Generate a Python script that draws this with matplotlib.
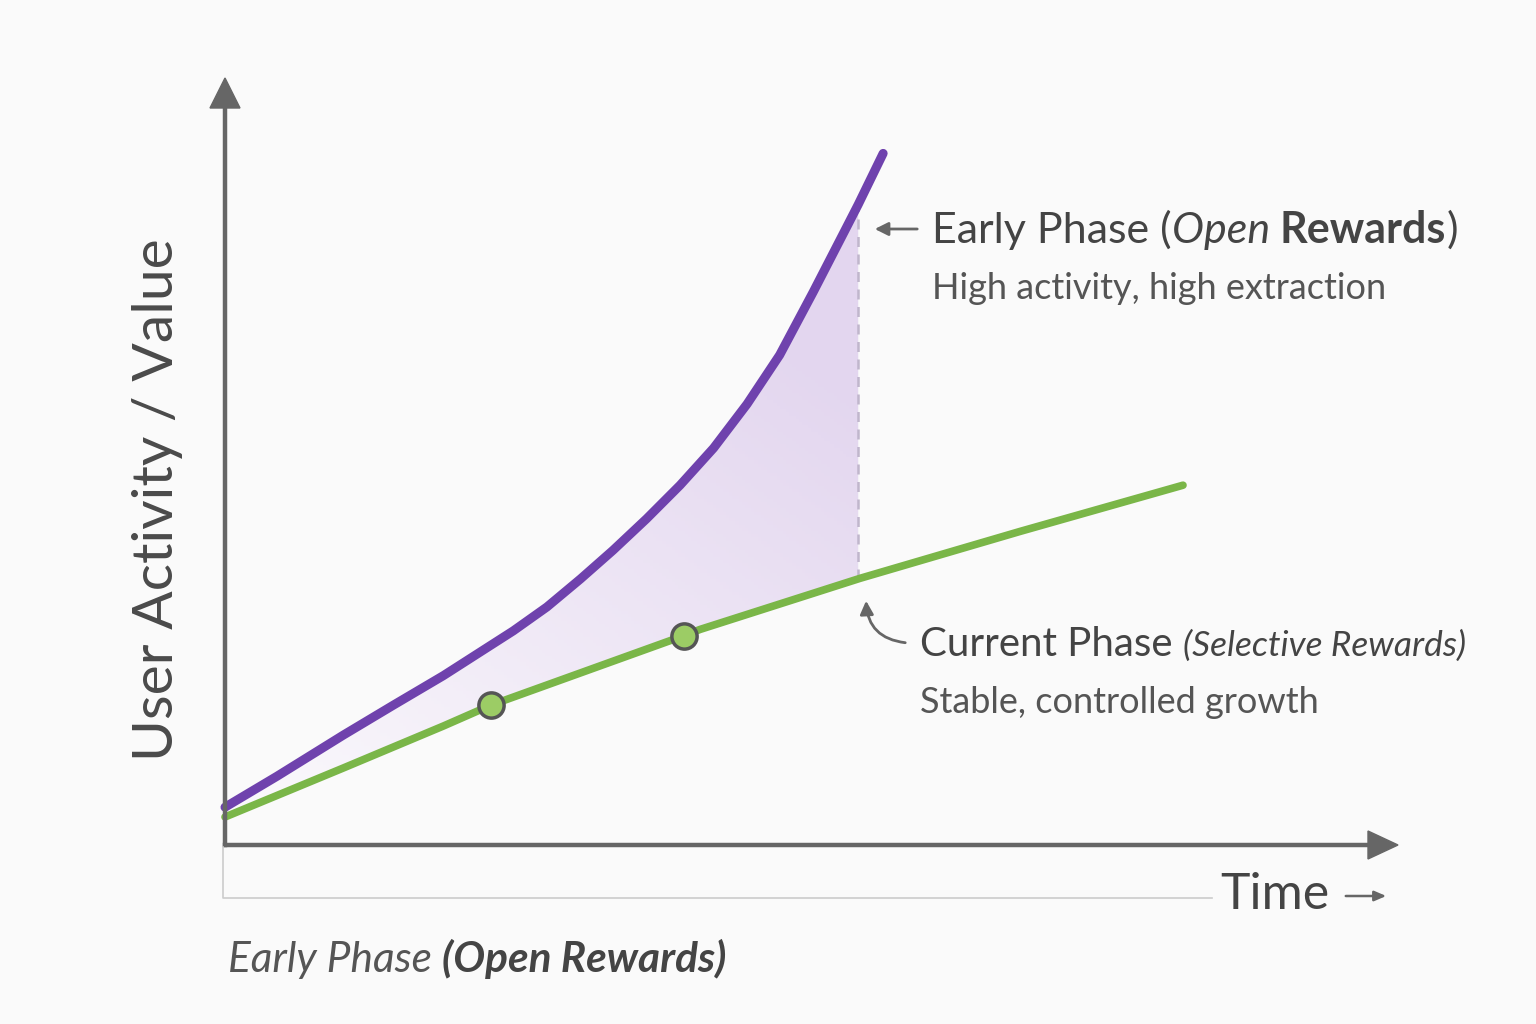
import numpy as np
import matplotlib
matplotlib.use("Agg")
import matplotlib.pyplot as plt
from matplotlib.colors import LinearSegmentedColormap

plt.rcParams['font.family'] = ['Lato', 'DejaVu Sans']

# curves (time units, value units)
t_open = [0.0, 0.54, 1.235, 1.76, 2.28, 3.01, 3.36, 3.71, 4.05, 4.40, 4.75,
          5.10, 5.45, 5.79, 6.14, 6.49, 6.61, 6.87]
v_open = [0.54, 0.98, 1.57, 2.00, 2.42, 3.06, 3.40, 3.80, 4.21, 4.66, 5.14,
          5.67, 6.30, 7.00, 7.90, 8.83, 9.15, 9.88]
t_sel = [0.0, 1.235, 2.28, 2.78, 4.79, 4.96, 6.63, 8.30, 10.0]
v_sel = [0.40, 1.10, 1.70, 2.00, 2.99, 3.08, 3.81, 4.48, 5.14]
t_marks = [2.78, 4.79]
v_marks = [2.00, 2.99]
t_gap = 6.61   # where the gap between phases is marked

purple = '#6f42ad'
green = '#7ab648'
axis_col = '#666666'
text_col = '#444444'

W, H = 1536, 1024
fig = plt.figure(figsize=(W / 100, H / 100), dpi=100, facecolor='#fafafa')
ax = fig.add_axes([225 / W, 179 / H, 958 / W, 700 / H])
ax.set_xlim(0, 10)
ax.set_ylim(0, 10)
ax.set_facecolor('none')
for s in ax.spines.values():
    s.set_visible(False)
ax.set_xticks([])
ax.set_yticks([])

def fx(x):
    return x / W

def fy(y):
    return 1 - y / H

# shaded gap between the curves
to = np.array(t_open)
vo = np.array(v_open)
keep = to <= t_gap
ts = np.array(t_sel)
vs = np.array(v_sel)
vo_end = np.interp(t_gap, to, vo)
vs_end = np.interp(t_gap, ts, vs)
poly_t = np.concatenate([to[keep], [t_gap, t_gap], ts[ts < t_gap][::-1]])
poly_v = np.concatenate([vo[keep], [vo_end, vs_end], vs[ts < t_gap][::-1]])
patch = ax.fill(poly_t, poly_v, color='none', lw=0)[0]
gx, gy = np.meshgrid(np.linspace(0, 1, 200), np.linspace(0, 1, 200))
grad = np.clip(0.5 * gx + 0.7 * gy, 0, 1)
cmap = LinearSegmentedColormap.from_list('fill', ['#fcfbfd', '#e3d6ef'])
im = ax.imshow(grad, extent=[0, t_gap, 0, vo_end], origin='lower', cmap=cmap,
               aspect='auto', zorder=1)
im.set_clip_path(patch)

ax.plot([t_gap, t_gap], [vs_end, vo_end], ls=(0, (4, 3)), color='#c0b6cc', lw=1.8, zorder=2)

ax.plot(t_sel, v_sel, color=green, lw=5.5, solid_capstyle='round', solid_joinstyle='round',
        zorder=3, clip_on=False)
ax.plot(t_open, v_open, color=purple, lw=6.5, solid_capstyle='round', solid_joinstyle='round',
        zorder=4, clip_on=False)
ax.scatter(t_marks, v_marks, s=330, color='#9ccc65', edgecolor='#555555', linewidth=2.5, zorder=5)

# axes drawn as arrows
fig.add_artist(plt.Line2D([fx(225), fx(225)], [fy(845), fy(100)], color=axis_col, lw=3.2))
fig.add_artist(plt.Line2D([fx(225), fx(1375)], [fy(845), fy(845)], color=axis_col, lw=3.2))
fig.add_artist(plt.Polygon([[fx(210), fy(108)], [fx(240), fy(108)], [fx(225), fy(78)]],
                           closed=True, color=axis_col, transform=fig.transFigure))
fig.add_artist(plt.Polygon([[fx(1368), fy(831)], [fx(1368), fy(859)], [fx(1398), fy(845)]],
                           closed=True, color=axis_col, transform=fig.transFigure))
# light bracket under the time axis
fig.add_artist(plt.Line2D([fx(223), fx(223), fx(1212)], [fy(847), fy(898), fy(898)],
                          color='#cccccc', lw=1.2))

fig.text(fx(158), fy(500), 'User Activity / Value', rotation=90, ha='center', va='center',
         fontsize=41, color='#4a4a4a')

renderer = fig.canvas.get_renderer()

def chain(x, y, parts, va='baseline'):
    # place text pieces one after another, each with its own style
    for txt, kw in parts:
        t = fig.text(x, y, txt, va=va, ha='left', **kw)
        bb = t.get_window_extent(renderer=renderer)
        x = bb.x1 / W
    return x

# early phase label
fig.add_artist(matplotlib.patches.FancyArrowPatch((fx(920), fy(229)), (fx(872), fy(229)),
               transform=fig.transFigure, arrowstyle='-|>,head_length=8,head_width=4',
               color=axis_col, lw=2))
chain(fx(932), fy(243), [('Early Phase (', dict(fontsize=31, color=text_col)),
                         ('Open ', dict(fontsize=31, color=text_col, style='italic')),
                         ('Rewards', dict(fontsize=31, color=text_col, weight='bold')),
                         (')', dict(fontsize=31, color=text_col))])
fig.text(fx(932), fy(299), 'High activity, high extraction', fontsize=26, color='#555555')

# current phase label
fig.add_artist(matplotlib.patches.FancyArrowPatch((fx(908), fy(643)), (fx(866), fy(598)),
               transform=fig.transFigure, arrowstyle='-|>,head_length=8,head_width=4',
               connectionstyle='arc3,rad=-0.45', color=axis_col, lw=2))
chain(fx(920), fy(656), [('Current Phase ', dict(fontsize=29, color=text_col)),
                         ('(Selective Rewards)', dict(fontsize=25.5, color=text_col, style='italic'))])
fig.text(fx(920), fy(713), 'Stable, controlled growth', fontsize=26, color='#555555')

# time label
fig.text(fx(1220), fy(909), 'Time', fontsize=36, color=text_col)
fig.add_artist(matplotlib.patches.FancyArrowPatch((fx(1343), fy(896)), (fx(1389), fy(896)),
               transform=fig.transFigure, arrowstyle='-|>,head_length=7,head_width=3',
               color=axis_col, lw=1.8))

# phase caption at the bottom
chain(fx(228), fy(972), [('Early Phase ', dict(fontsize=30.5, color='#555555', style='italic')),
                         ('(Open Rewards)', dict(fontsize=30.5, color=text_col, style='italic',
                                                 weight='bold'))])

fig.savefig('out.png', dpi=100, facecolor=fig.get_facecolor())
